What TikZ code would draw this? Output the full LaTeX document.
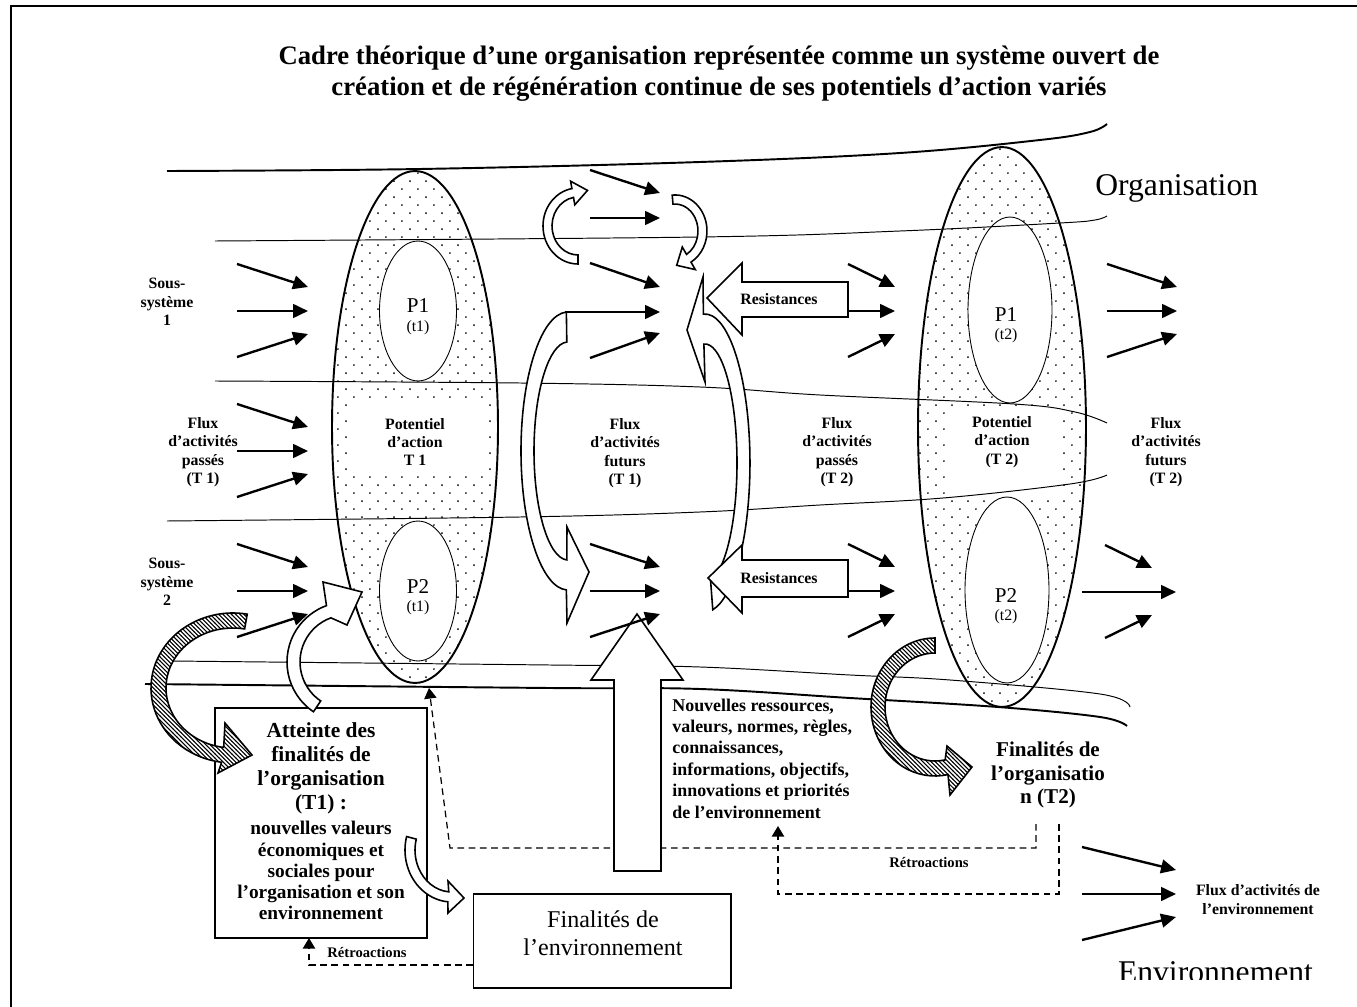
\documentclass[tikz,border=0pt]{standalone}
\usepackage{fontspec}
\setmainfont{Liberation Serif}
\usetikzlibrary{arrows.meta,shapes.geometric,patterns}

% staggered dot fill for the action potentials
\pgfdeclarepatternformonly{potdots}{\pgfqpoint{0pt}{0pt}}{\pgfqpoint{9.07pt}{9.07pt}}{\pgfqpoint{9.07pt}{9.07pt}}{%
  \pgfpathcircle{\pgfqpoint{2.27pt}{2.27pt}}{0.55pt}%
  \pgfpathcircle{\pgfqpoint{6.8pt}{6.8pt}}{0.55pt}%
  \pgfusepath{fill}}
% dense backslash hatching for the finality arrows
\pgfdeclarepatternformonly{densehatch}{\pgfqpoint{-1pt}{-1pt}}{\pgfqpoint{3.4pt}{3.4pt}}{\pgfqpoint{2.4pt}{2.4pt}}{%
  \pgfsetlinewidth{0.6pt}%
  \pgfpathmoveto{\pgfqpoint{-0.1pt}{2.5pt}}%
  \pgfpathlineto{\pgfqpoint{2.5pt}{-0.1pt}}%
  \pgfusepath{stroke}}

\newcommand\fsz[2]{\fontsize{#1}{#2}\selectfont}
% three converging flow arrows: start x, end x, centre y
\newcommand\threeflow[3]{%
  \draw[flow] (#1,-#3+47) -- (#2,-#3+24);
  \draw[flow] (#1,-#3) -- (#2,-#3);
  \draw[flow] (#1,-#3-46) -- (#2,-#3-23);}

\begin{document}
\begin{tikzpicture}[x=0.02cm,y=0.02cm,
  orgthick/.style={line width=1.1pt},
  orgthin/.style={line width=0.55pt},
  flow/.style={line width=1.35pt,-{Triangle[length=8.5pt,width=7.8pt]}},
  blockarrow/.style={draw,fill=white,line width=0.9pt,line join=miter},
  hatcharrow/.style={draw,line width=0.9pt,line join=miter,preaction={fill=white},pattern=densehatch},
  feedback/.style={dash pattern=on 3.8pt off 2.6pt,line width=0.7pt},
  fbtip/.style={-{Triangle[length=6pt,width=7pt]}},
  txt/.style={inner sep=0pt,align=center},
  lbl/.style={txt,font=\fsz{9}{10.5}\bfseries},
  outerpot/.style={ellipse,draw,line width=1.1pt,inner sep=0pt,pattern=potdots},
  innerpot/.style={ellipse,draw,line width=0.5pt,inner sep=0pt,fill=white},
]
\useasboundingbox (0,0) rectangle (1357,-1007);
\draw[line width=0.85pt] (11,-1007) -- (11,-6) -- (1357,-6);

% title
\node[txt,anchor=base,font=\fsz{15.2}{18}\bfseries] (title1) at (719,-65)
  {Cadre théorique d’une organisation représentée comme un système ouvert de};
\node[txt,anchor=base,font=\fsz{15.2}{18}\bfseries] (title2) at (719,-96)
  {création et de régénération continue de ses potentiels d’action variés};

% action potentials at T1 and T2
\node[outerpot,minimum width=3.32cm,minimum height=10.24cm] (E1) at (415,-427) {};
\node[outerpot,minimum width=3.36cm,minimum height=11.2cm] (E2) at (1002,-427) {};
\fill[white] (350,-402) rectangle (483,-476);
\fill[white] (945,-410) rectangle (1060,-497);
\node[innerpot,minimum width=1.54cm,minimum height=2.8cm] (P1a) at (418,-311) {};
\node[innerpot,minimum width=1.54cm,minimum height=2.8cm] (P2a) at (418,-591) {};
\node[innerpot,minimum width=1.68cm,minimum height=3.72cm] (P1b) at (1010,-310) {};
\node[innerpot,minimum width=1.68cm,minimum height=3.72cm] (P2b) at (1007,-590) {};

% organisation boundary and subsystem separators
\draw[orgthick] plot[smooth,tension=0.6] coordinates {(167,-171) (420,-169) (700,-162) (900,-153) (1040,-140) (1090,-132) (1107,-124)};
\draw[orgthin] plot[smooth,tension=0.6] coordinates {(215,-241) (700,-237) (900,-231) (1060,-223) (1095,-220) (1107,-216)};
\draw[orgthin] plot[smooth,tension=0.6] coordinates {(215,-381) (520,-383) (700,-387) (820,-395) (1014,-404) (1075,-412) (1107,-423)};
\draw[orgthin] plot[smooth,tension=0.6] coordinates {(167,-521) (520,-517) (700,-512) (820,-505) (943,-498) (1070,-484) (1107,-475)};
\draw[orgthin] plot[smooth,tension=0.6] coordinates {(171,-661) (550,-665) (700,-667) (850,-675) (950,-680) (1100,-694) (1130,-707)};
\draw[orgthick] plot[smooth,tension=0.6] coordinates {(145,-684) (550,-688) (700,-689) (850,-698) (998,-707) (1100,-717) (1127,-726)};

% labels
\node[txt,anchor=base west,font=\fsz{18}{20}] (org) at (1095,-195) {Organisation};
\node[lbl] (ss1) at (167,-302) {Sous-\\système\\1};
\node[lbl] (fp1) at (203,-452) {Flux\\d’activités\\passés\\(T 1)};
\node[lbl] (ss2) at (167,-582) {Sous-\\système\\2};
\node[lbl] (pot1) at (415,-442) {Potentiel\\d’action\\T 1};
\node[lbl] (ff1) at (625,-453) {Flux\\d’activités\\futurs\\(T 1)};
\node[lbl] (fp2) at (837,-452) {Flux\\d’activités\\passés\\(T 2)};
\node[lbl] (pot2) at (1002,-442) {Potentiel\\d’action\\(T 2)};
\node[lbl] (ff2) at (1166,-452) {Flux\\d’activités\\futurs\\(T 2)};
\node[txt,font=\fsz{12}{12}] (p1a) at (418,-306) {P1};
\node[txt,font=\fsz{9}{9}] (t1a) at (418,-328) {(t1)};
\node[txt,font=\fsz{12}{12}] (p2a) at (418,-587) {P2};
\node[txt,font=\fsz{9}{9}] (t2a) at (418,-608) {(t1)};
\node[txt,font=\fsz{12}{12}] (p1b) at (1006,-315) {P1};
\node[txt,font=\fsz{9}{9}] (t1b) at (1006,-336) {(t2)};
\node[txt,font=\fsz{12}{12}] (p2b) at (1006,-596) {P2};
\node[txt,font=\fsz{9}{9}] (t2b) at (1006,-617) {(t2)};

% feedback loops
\coordinate (fbA) at (1036,-824);
\coordinate (fbB) at (1059,-824);
\coordinate (bendA) at (450,-848);
\coordinate (tipA) at (429,-688);
\coordinate (bendB) at (778,-894);
\coordinate (tipB) at (778,-826);
\coordinate (envfb) at (473,-965);
\coordinate (tipC) at (309,-938);
\draw[feedback,fbtip] (fbA) |- (bendA) -- (tipA);
\draw[feedback,fbtip] (fbB) |- (bendB) -- (tipB);

% new resources coming from the environment
\draw[blockarrow] (614,-871) -- (614,-680) -- (591,-680) -- (637,-614) -- (683,-680)
  -- (661,-680) -- (661,-871) -- cycle;

% curved arrows between past and future flows
\draw[blockarrow] (703.4,-314.1) arc[start angle=92,end angle=-80,x radius=45,y radius=149]
  -- (710.56,-580.19) arc[start angle=-80,end angle=92,x radius=32,y radius=119]
  -- (705,-382) -- (687,-330) -- (703,-277) -- cycle;
\draw[blockarrow] (848,-282) -- (742,-282) -- (742,-263) -- (707,-298) -- (742,-335)
  -- (742,-317) -- (848,-317) -- cycle;
\draw[blockarrow] (848,-560) -- (742,-560) -- (742,-545) -- (708,-578) -- (742,-613)
  -- (742,-597) -- (848,-597) -- cycle;
\node[txt,font=\fsz{9}{9}\bfseries] (res1) at (779,-299) {Resistances};
\node[txt,font=\fsz{9}{9}\bfseries] (res2) at (779,-578) {Resistances};
\draw[blockarrow] (566.36,-312.08) arc[start angle=92,end angle=268,x radius=47,y radius=139]
  -- (567,-623) -- (589,-572) -- (567,-527) -- (566.81,-559.93)
  arc[start angle=268,end angle=92,x radius=34,y radius=109] -- cycle;
\draw[blockarrow] (578,-264) arc[start angle=270,end angle=100,x radius=35,y radius=38]
  -- (570.6,-181.2) -- (587.5,-190.4) -- (574.8,-204.8) -- (573.5,-197.4)
  arc[start angle=100,end angle=270,x radius=26,y radius=29] -- cycle;
\draw[blockarrow] (672.2,-195.1) arc[start angle=95,end angle=-60,x radius=32,y radius=36]
  -- (695.3,-269.6) -- (676.7,-265.3) -- (682.3,-247.0) -- (686.5,-254.4)
  arc[start angle=-60,end angle=95,x radius=23,y radius=27] -- cycle;

% activity flows
\threeflow{237}{308}{311}
\threeflow{237}{308}{451}
\threeflow{237}{308}{591}
\draw[flow] (590,-170) -- (660,-193);
\draw[flow] (590,-218) -- (660,-218);
\draw[flow] (590,-263) -- (660,-287);
\draw[flow] (565,-312) -- (660,-312);
\draw[flow] (590,-358) -- (660,-333);
\threeflow{590}{660}{591}
\threeflow{848}{895}{311}
\threeflow{848}{895}{591}
\threeflow{1107}{1177}{311}
\draw[flow] (1105,-545) -- (1152,-568);
\draw[flow] (1082,-592) -- (1176,-592);
\draw[flow] (1105,-638) -- (1152,-615);
\threeflow{1082}{1176}{894}

% finalities of the organisation at T1
\node[draw,fill=white,line width=0.8pt,inner sep=0pt,minimum width=4.24cm,minimum height=4.6cm] (att) at (321,-823) {};
\node[txt,font=\fsz{12.2}{13.6}\bfseries] (att1) at (321,-768.5) {Atteinte des\\finalités de\\l’organisation\\(T1) :};
\node[txt,font=\fsz{11}{12}\bfseries] (att2) at (321,-870.5) {nouvelles valeurs\\économiques et\\sociales pour\\l’organisation et son\\environnement};
\draw[hatcharrow] (247.24,-614.14) arc[start angle=80,end angle=262,x radius=82,y radius=75]
  -- (218,-773) -- (252,-755) -- (225,-723) -- (223.68,-747.42)
  arc[start angle=262,end angle=80,x radius=67,y radius=60] -- cycle;
\draw[blockarrow] (313.45,-711.74) arc[start angle=236,end angle=110,radius=60]
  -- (323,-582) -- (362,-592) -- (347,-625) -- (330.93,-617.83)
  arc[start angle=110,end angle=236,radius=47] -- cycle;
\draw[blockarrow] (406.60,-836.54) arc[start angle=165,end angle=265,x radius=47,y radius=52]
  -- (448,-913) -- (464,-898) -- (448,-881) -- (448.78,-891.84)
  arc[start angle=265,end angle=165,x radius=37,y radius=42] -- cycle;

% finalities of the environment
\node[draw,fill=white,line width=0.6pt,inner sep=0pt,minimum width=5.16cm,minimum height=1.88cm] (envb) at (602,-941) {};
\node[txt,font=\fsz{13.7}{15.9}] (envt) at (603,-933) {Finalités de\\l’environnement};
\draw[feedback,fbtip] (envfb) -| (tipC);
\node[txt,font=\fsz{8.3}{9}\bfseries] (ret1) at (367,-953) {Rétroactions};

% environment inputs
\node[txt,anchor=west,align=left,font=\fsz{10.2}{12.2}\bfseries] (nr) at (672,-758.5)
  {Nouvelles ressources,\\valeurs, normes, règles,\\connaissances,\\informations, objectifs,\\innovations et priorités\\de l’environnement};

% finalities of the organisation at T2
\draw[hatcharrow] (935,-638) arc[start angle=90,end angle=281.7,x radius=64,y radius=69]
  -- (950,-795) -- (972,-767) -- (947,-746) -- (945.14,-759.88)
  arc[start angle=281.7,end angle=90,x radius=50,y radius=54] -- cycle;
\node[txt,font=\fsz{12}{13.6}\bfseries] (ft2) at (1048,-775) {Finalités de\\l’organisatio\\n (T2)};
\node[txt,font=\fsz{8.3}{9}\bfseries] (ret2) at (929,-863) {Rétroactions};

\node[txt,font=\fsz{9}{10.8}\bfseries] (fenv) at (1258,-899.5) {Flux d’activités de\\l’environnement};
\begin{scope}
  \clip (1100,-940) rectangle (1340,-979);
  \node[txt,anchor=base,font=\fsz{18}{20}] (env) at (1215.5,-982) {Environnement};
\end{scope}
\end{tikzpicture}
\end{document}
